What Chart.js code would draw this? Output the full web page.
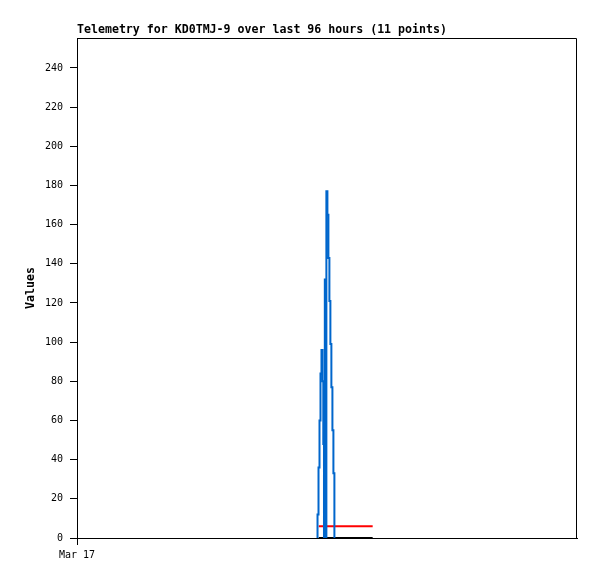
<!DOCTYPE html>
<html>
<head>
<meta charset="utf-8">
<script src="https://cdn.jsdelivr.net/npm/chart.js@4.4.1/dist/chart.umd.min.js"></script>
<style>
  html, body { margin: 0; padding: 0; background: #fff; }
  #wrap { width: 597px; height: 579px; }
</style>
</head>
<body>
<div id="wrap"><canvas id="telemetry" width="597" height="579"></canvas></div>
<script>
// hours since Mar 17 00:00, stepped telemetry
const chartTitle = 'Telemetry for KD0TMJ-9 over last 96 hours (11 points)';
const yTitle = 'Values';
const xTickHours = [0];
const xTickLabels = ['Mar 17'];

const blueHours = [46.18, 46.18, 46.37, 46.56, 46.75, 46.94, 47.14, 47.29, 47.42, 47.58,
                   47.73, 47.88, 48.08, 48.27, 48.46, 48.65, 48.84, 49.04, 49.23, 49.42];
const blueValues = [0, 12, 36, 60, 84, 96, 80, 48, 0, 132,
                    0, 177, 165, 143, 121, 99, 77, 55, 33, 0];

const pointHours = [46.41, 47.45, 48.48, 49.52, 50.55, 51.59, 52.63, 53.66, 54.70, 55.73, 56.77];
const redValues = [6, 6, 6, 6, 6, 6, 6, 6, 6, 6, 6];
const blackValues = [0, 0, 0, 0, 0, 0, 0, 0, 0, 0, 0];

const MONO = '"DejaVu Sans Mono", "Liberation Mono", monospace';

function toPoints(xs, ys) {
    return xs.map((x, i) => ({ x: x, y: ys[i] }));
}

// frame + titles
const decorations = {
    id: 'decorations',
    afterDraw(chart) {
        const ctx = chart.ctx;
        const a = chart.chartArea;
        ctx.save();
        ctx.strokeStyle = '#000';
        ctx.lineWidth = 1;
        ctx.beginPath();
        ctx.moveTo(a.left, a.top + 0.5);
        ctx.lineTo(a.right - 0.5, a.top + 0.5);
        ctx.lineTo(a.right - 0.5, a.bottom);
        ctx.stroke();
        ctx.fillStyle = '#000';
        ctx.font = 'bold 11.6px ' + MONO;
        ctx.textAlign = 'left';
        ctx.textBaseline = 'alphabetic';
        ctx.fillText(chartTitle, a.left, 33);
        ctx.translate(31, (a.top + a.bottom) / 2);
        ctx.rotate(-Math.PI / 2);
        ctx.textAlign = 'center';
        ctx.textBaseline = 'middle';
        ctx.fillText(yTitle, 0, 0);
        ctx.restore();
    }
};

new Chart(document.getElementById('telemetry'), {
    type: 'line',
    data: {
        datasets: [
            {
                label: 'ch1',
                data: toPoints(blueHours, blueValues),
                borderColor: '#0066cc',
                borderWidth: 2,
                stepped: true,
                pointRadius: 0
            },
            {
                label: 'ch2',
                data: toPoints(pointHours, blackValues),
                borderColor: '#000000',
                borderWidth: 2,
                stepped: true,
                pointRadius: 0
            },
            {
                label: 'ch3',
                data: toPoints(pointHours, redValues),
                borderColor: '#ff0000',
                borderWidth: 2,
                stepped: true,
                pointRadius: 0
            }
        ]
    },
    options: {
        responsive: false,
        animation: false,
        layout: { padding: { left: 0, right: 20, top: 38, bottom: 0 } },
        plugins: {
            legend: { display: false },
            tooltip: { enabled: false }
        },
        scales: {
            x: {
                type: 'linear',
                min: 0,
                max: 96,
                afterFit: s => { s.height = 41; },
                afterBuildTicks: s => { s.ticks = xTickHours.map(v => ({ value: v })); },
                grid: {
                    drawOnChartArea: false,
                    drawTicks: true,
                    tickLength: 7,
                    color: c => (c.tick && xTickHours.includes(c.tick.value)) ? '#000' : 'rgba(0,0,0,0)'
                },
                border: { color: '#000' },
                ticks: {
                    color: '#000',
                    font: { family: MONO, size: 10 },
                    padding: 4,
                    maxRotation: 0,
                    autoSkip: false,
                    callback: v => xTickLabels[xTickHours.indexOf(v)]
                }
            },
            y: {
                min: 0,
                max: 255.3,
                afterFit: s => { s.width = 77; },
                grid: { drawOnChartArea: false, drawTicks: true, tickLength: 7, color: '#000' },
                border: { color: '#000' },
                ticks: {
                    stepSize: 20,
                    includeBounds: false,
                    color: '#000',
                    padding: 7,
                    font: { family: MONO, size: 10 }
                }
            }
        }
    },
    plugins: [decorations]
});
</script>
</body>
</html>
